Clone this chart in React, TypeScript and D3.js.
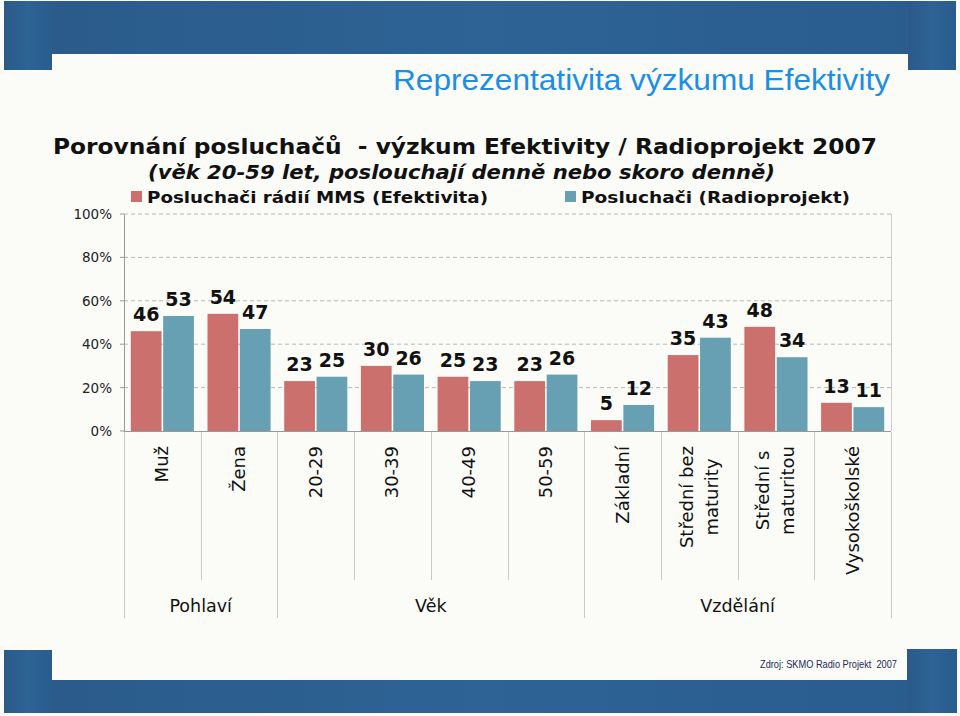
import React from "react";
import * as d3 from "d3";

const categories = ["Muž", "Žena", "20-29", "30-39", "40-49", "50-59", "Základní", "Střední bez\nmaturity", "Střední s\nmaturitou", "Vysokoškolské"];
const efektivita = [46, 54, 23, 30, 25, 23, 5, 35, 48, 13];
const radioprojekt = [53, 47, 25, 26, 23, 26, 12, 43, 34, 11];
const seriesNames = ["Posluchači rádií MMS (Efektivita)", "Posluchači (Radioprojekt)"];
const groupNames = ["Pohlaví", "Věk", "Vzdělání"];
const groupSizes = [2, 4, 4];
const yTicks = [0, 20, 40, 60, 80, 100];

const W = 960, H = 716;
const RED = "#cc706d";
const TEAL = "#67a0b2";
const F = "'DejaVu Sans', Verdana, sans-serif";

let ctx: CanvasRenderingContext2D | null = null;
function measure(t: string, font: string) {
  if (!ctx) ctx = document.createElement("canvas").getContext("2d");
  if (!ctx) return t.length * 10;
  ctx.font = font;
  return ctx.measureText(t).width;
}

export default function App() {
  const x = d3.scaleBand<number>().domain(d3.range(categories.length)).range([124, 891]).paddingInner(0).paddingOuter(0);
  const xs = d3.scaleBand<number>().domain([0, 1]).range([0, x.bandwidth()]).paddingInner(0.05).paddingOuter(0.21);
  const y = d3.scaleLinear().domain([0, 100]).range([431, 214]);
  const series = [efektivita, radioprojekt];
  const colors = [RED, TEAL];

  const groupStarts: number[] = [];
  let acc = 0;
  groupSizes.forEach((s) => { groupStarts.push(acc); acc += s; });

  const catSize = 18;

  return (
    <svg width={W} height={H} style={{ position: "absolute", left: 0, top: 0, background: "#fbfbf8" }}>
      <defs>
        <linearGradient id="bandG" x1="0" x2="1" y1="0" y2="0">
          <stop offset="0" stopColor="#2a5a8a" />
          <stop offset="0.5" stopColor="#2d6395" />
          <stop offset="1" stopColor="#2a5c8e" />
        </linearGradient>
      </defs>
      <rect x={0} y={0} width={W} height={H} fill="#fbfbf8" />
      {/* top banner */}
      <rect x={4} y={1} width={952} height={53} fill="url(#bandG)" />
      <rect x={4} y={1} width={48} height={69} fill="url(#bandG)" />
      <rect x={908} y={1} width={48} height={69} fill="url(#bandG)" />
      {/* bottom banner */}
      <rect x={4} y={680} width={953} height={33} fill="url(#bandG)" />
      <rect x={4} y={650} width={48} height={63} fill="url(#bandG)" />
      <rect x={907} y={649} width={50} height={64} fill="url(#bandG)" />

      <text x={890} y={90} textAnchor="end" fontFamily="'Liberation Sans', Arial, sans-serif" fontSize={30} fill="#1b8fe3" textLength={497} lengthAdjust="spacingAndGlyphs">
        Reprezentativita výzkumu Efektivity
      </text>

      <text x={53} y={154} fontFamily={F} fontWeight="bold" fontSize={21} fill="#111" textLength={824} lengthAdjust="spacingAndGlyphs" style={{ whiteSpace: "pre" }}>
        {"Porovnání posluchačů  - výzkum Efektivity / Radioprojekt 2007"}
      </text>
      <text x={148} y={179} fontFamily={F} fontWeight="bold" fontStyle="italic" fontSize={19} fill="#111" textLength={627} lengthAdjust="spacingAndGlyphs">
        (věk 20-59 let, poslouchají denně nebo skoro denně)
      </text>

      {/* legend */}
      <rect x={131} y={191} width={11} height={11} fill={RED} />
      <text x={147} y={203} fontFamily={F} fontWeight="bold" fontSize={16} fill="#111" textLength={341} lengthAdjust="spacingAndGlyphs">{seriesNames[0]}</text>
      <rect x={565} y={191} width={11} height={11} fill={TEAL} />
      <text x={581} y={203} fontFamily={F} fontWeight="bold" fontSize={16} fill="#111" textLength={269} lengthAdjust="spacingAndGlyphs">{seriesNames[1]}</text>

      {/* gridlines and y axis */}
      {yTicks.map((t) => (
        <g key={t}>
          {t > 0 && <line x1={124} x2={891} y1={y(t)} y2={y(t)} stroke="#b8b8b8" strokeDasharray="4,3" strokeWidth={1} />}
          <line x1={120} x2={124} y1={y(t)} y2={y(t)} stroke="#999" />
          <text x={112} y={y(t) + 5} textAnchor="end" fontFamily={F} fontSize={13.5} fill="#222">{t}%</text>
        </g>
      ))}
      <line x1={124.5} x2={124.5} y1={y(100)} y2={y(0)} stroke="#999" />
      <line x1={891.5} x2={891.5} y1={y(100)} y2={y(0)} stroke="#ccc" />

      {/* bars */}
      {series.map((vals, si) =>
        vals.map((v, i) => (
          <rect key={`${si}-${i}`} x={(x(i) as number) + (xs(si) as number)} y={y(v)} width={xs.bandwidth()} height={y(0) - y(v)} fill={colors[si]} />
        ))
      )}
      <line x1={124} x2={891} y1={431.5} y2={431.5} stroke="#999" />

      {/* value labels */}
      {series.map((vals, si) =>
        vals.map((v, i) => (
          <text key={`l${si}-${i}`} x={(x(i) as number) + (xs(si) as number) + xs.bandwidth() / 2} y={y(v) - 10} textAnchor="middle" fontFamily={F} fontWeight="bold" fontSize={19} fill="#111">{v}</text>
        ))
      )}

      {/* category separators */}
      {d3.range(categories.length + 1).map((i) => {
        const xx = i < categories.length ? (x(i) as number) : 891;
        const isGroup = i === categories.length || groupStarts.includes(i);
        return <line key={`s${i}`} x1={Math.round(xx) + 0.5} x2={Math.round(xx) + 0.5} y1={432} y2={isGroup ? 618 : 580} stroke="#c8c8c8" />;
      })}

      {/* category labels */}
      {categories.map((c, i) => {
        const lines = c.split("\n");
        const font = `${catSize}px ${F}`;
        const cx = (x(i) as number) + x.bandwidth() / 2;
        const top = 446;
        if (lines.length === 1) {
          return (
            <text key={`c${i}`} transform={`translate(${cx + 6},${top}) rotate(-90)`} textAnchor="end" fontFamily={F} fontSize={catSize} fill="#111">{c}</text>
          );
        }
        const maxLen = Math.max(...lines.map((l) => measure(l, font)));
        const lh = 25;
        return (
          <g key={`c${i}`}>
            {lines.map((l, li) => (
              <text key={li} transform={`translate(${cx - lh / 2 + li * lh + 6},${top + maxLen / 2}) rotate(-90)`} textAnchor="middle" fontFamily={F} fontSize={catSize} fill="#111">{l}</text>
            ))}
          </g>
        );
      })}

      {/* group labels */}
      {groupNames.map((g, gi) => {
        const a = x(groupStarts[gi]) as number;
        const b = gi + 1 < groupNames.length ? (x(groupStarts[gi + 1]) as number) : 891;
        return <text key={g} x={(a + b) / 2} y={612} textAnchor="middle" fontFamily={F} fontSize={17.5} fill="#111">{g}</text>;
      })}

      <text x={760} y={668} fontFamily="'Liberation Sans', Arial, sans-serif" fontSize={10.5} fill="#1c2a55" textLength={137} lengthAdjust="spacingAndGlyphs" style={{ whiteSpace: "pre" }}>
        {"Zdroj: SKMO Radio Projekt  2007"}
      </text>
    </svg>
  );
}
